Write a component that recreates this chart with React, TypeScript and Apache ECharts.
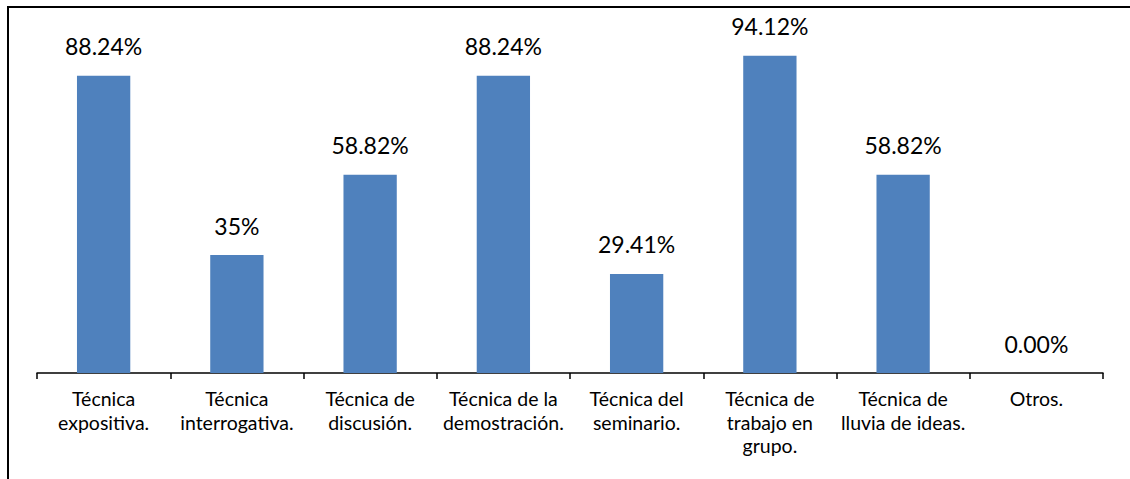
import React, { useEffect, useRef } from "react";
import * as echarts from "echarts";

const categories = [
  "Técnica\nexpositiva.",
  "Técnica\ninterrogativa.",
  "Técnica de\ndiscusión.",
  "Técnica de la\ndemostración.",
  "Técnica del\nseminario.",
  "Técnica de\ntrabajo en\ngrupo.",
  "Técnica de\nlluvia de ideas.",
  "Otros.",
];
const values = [88.24, 35, 58.82, 88.24, 29.41, 94.12, 58.82, 0];
const valueLabels = ["88.24%", "35%", "58.82%", "88.24%", "29.41%", "94.12%", "58.82%", "0.00%"];

const FONT = "Lato, 'Open Sans', sans-serif";

export default function App() {
  const ref = useRef<HTMLDivElement>(null);
  useEffect(() => {
    if (!ref.current) return;
    const chart = echarts.init(ref.current, null, { renderer: "svg" });
    chart.setOption({
      animation: false,
      backgroundColor: "#ffffff",
      grid: { left: 37, right: 27, top: 36, bottom: 106 },
      xAxis: {
        type: "category",
        data: categories,
        axisLine: { lineStyle: { color: "#000", width: 1.5 } },
        axisTick: { show: true, interval: 0, length: 6, lineStyle: { color: "#000", width: 1.5 } },
        axisLabel: {
          interval: 0,
          margin: 14,
          color: "#000",
          fontSize: 19.5,
          lineHeight: 23.5,
          fontFamily: FONT,
        },
      },
      yAxis: {
        type: "value",
        min: 0,
        max: 100,
        show: false,
        splitLine: { show: false },
      },
      series: [
        {
          type: "bar",
          data: values,
          barWidth: "40%",
          itemStyle: { color: "#4F81BD" },
          label: {
            show: true,
            position: "top",
            distance: 18,
            color: "#000",
            fontSize: 23,
            fontFamily: FONT,
            formatter: (p: any) => valueLabels[p.dataIndex],
          },
        },
      ],
      graphic: [
        { type: "line", shape: { x1: 7.5, y1: 7, x2: 1130, y2: 7 }, style: { stroke: "#000", lineWidth: 2 } },
        { type: "line", shape: { x1: 8, y1: 6, x2: 8, y2: 479 }, style: { stroke: "#000", lineWidth: 2 } },
      ],
    });
    return () => chart.dispose();
  }, []);
  return (
    <div
      ref={ref}
      style={{ position: "absolute", left: 0, top: 0, width: 1130, height: 479 }}
    />
  );
}
